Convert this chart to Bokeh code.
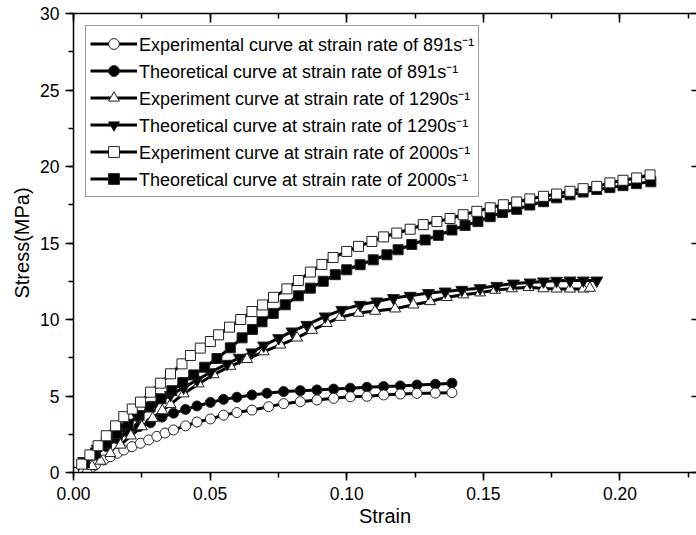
from bokeh.plotting import figure
from bokeh.models import (LinearAxis, Range1d, Legend, LegendItem,
                          SingleIntervalTicker, PrintfTickFormatter)
from bokeh.embed import file_html
from bokeh.resources import INLINE

# ---------------- data ----------------
exp891_x = [0.000, 0.0035, 0.0062, 0.0080, 0.0111, 0.0135, 0.0160, 0.0184, 0.0214, 0.0245,
            0.0275, 0.0305, 0.0335, 0.0366, 0.0410, 0.0452, 0.0501, 0.0549, 0.0598, 0.0653,
            0.0714, 0.0769, 0.0830, 0.0891, 0.0952, 0.1013, 0.1074, 0.1135, 0.1196, 0.1257,
            0.1324, 0.1385]
exp891_y = [0.00, 0.10, 0.27, 0.49, 0.82, 1.03, 1.26, 1.47, 1.69, 1.91,
            2.13, 2.36, 2.58, 2.78, 3.05, 3.30, 3.50, 3.75, 3.92, 4.08,
            4.30, 4.50, 4.63, 4.74, 4.85, 4.95, 4.98, 5.07, 5.13, 5.17,
            5.19, 5.22]

theo891_x = [0.000, 0.004, 0.008, 0.012, 0.016, 0.020, 0.024, 0.0282, 0.0324, 0.0366,
             0.0410, 0.0452, 0.0501, 0.0549, 0.0598, 0.0653, 0.0708, 0.0769, 0.0830, 0.0891,
             0.0952, 0.1013, 0.1074, 0.1135, 0.1196, 0.1257, 0.1324, 0.1385]
theo891_y = [0.00, 0.55, 1.15, 1.70, 2.20, 2.62, 3.00, 3.25, 3.62, 3.88,
             4.12, 4.35, 4.58, 4.78, 4.92, 5.07, 5.18, 5.29, 5.35, 5.40,
             5.45, 5.51, 5.57, 5.62, 5.66, 5.72, 5.77, 5.84]

exp1290_x = [0.000, 0.003, 0.005, 0.0068, 0.0099, 0.0135, 0.0172, 0.0210, 0.0250, 0.0290,
             0.0325, 0.0355, 0.0403, 0.0458, 0.0513, 0.0574, 0.0635, 0.0696, 0.0757, 0.0818,
             0.0873, 0.0927, 0.0976, 0.1043, 0.1104, 0.1177, 0.1244, 0.1305, 0.1366, 0.1427,
             0.1488, 0.1543, 0.1604, 0.1665, 0.1720, 0.1768, 0.1817, 0.1866, 0.1890]
exp1290_y = [0.00, 0.05, 0.18, 0.40, 0.75, 1.25, 1.80, 2.40, 3.00, 3.55,
             4.05, 4.45, 5.15, 5.80, 6.40, 6.95, 7.40, 7.90, 8.34, 8.80,
             9.30, 9.75, 10.15, 10.42, 10.55, 10.70, 10.96, 11.18, 11.45, 11.62,
             11.75, 11.92, 12.02, 12.10, 12.02, 12.00, 12.00, 12.00, 12.05]

theo1290_x = [0.000, 0.0038, 0.0087, 0.0135, 0.0184, 0.0233, 0.0294, 0.0355, 0.0403, 0.0452,
              0.0501, 0.0562, 0.0607, 0.0653, 0.0696, 0.0751, 0.0800, 0.0854, 0.0921, 0.0982,
              0.1049, 0.1110, 0.1171, 0.1232, 0.1299, 0.1360, 0.1421, 0.1488, 0.1549, 0.1610,
              0.1671, 0.1720, 0.1768, 0.1817, 0.1866, 0.1915]
theo1290_y = [0.00, 0.75, 1.55, 2.30, 3.00, 3.65, 4.42, 5.07, 5.55, 6.05,
              6.55, 7.10, 7.50, 7.85, 8.30, 8.78, 9.22, 9.65, 10.20, 10.63,
              10.96, 11.18, 11.40, 11.55, 11.73, 11.83, 11.94, 12.05, 12.20, 12.35,
              12.42, 12.49, 12.53, 12.55, 12.55, 12.55]

exp2000_x = [0.000, 0.003, 0.006, 0.009, 0.012, 0.0154, 0.0184, 0.0215, 0.0245, 0.0282,
             0.0318, 0.0355, 0.0397, 0.0428, 0.0464, 0.0501, 0.0531, 0.0571, 0.0612, 0.0653,
             0.0692, 0.0732, 0.0781, 0.0823, 0.0867, 0.0909, 0.0950, 0.1000, 0.1043, 0.1092,
             0.1135, 0.1183, 0.1232, 0.1280, 0.1330, 0.1378, 0.1426, 0.1476, 0.1525, 0.1573,
             0.1622, 0.1670, 0.1720, 0.1768, 0.1817, 0.1865, 0.1915, 0.1963, 0.2011, 0.2061,
             0.2110]
exp2000_y = [0.00, 0.55, 1.15, 1.75, 2.40, 3.05, 3.65, 4.15, 4.60, 5.25,
             5.84, 6.45, 7.10, 7.65, 8.13, 8.56, 9.00, 9.50, 10.00, 10.52,
             10.95, 11.45, 12.00, 12.55, 13.10, 13.60, 14.05, 14.45, 14.78, 15.10,
             15.40, 15.65, 15.90, 16.20, 16.40, 16.60, 16.85, 17.07, 17.30, 17.50,
             17.68, 17.88, 18.05, 18.20, 18.38, 18.55, 18.70, 18.93, 19.10, 19.25,
             19.45]

theo2000_x = [0.000, 0.004, 0.008, 0.012, 0.016, 0.020, 0.024, 0.028, 0.032, 0.036,
              0.040, 0.044, 0.048, 0.0525, 0.0574, 0.0617, 0.0655, 0.0690, 0.0731, 0.0775,
              0.0823, 0.0867, 0.0914, 0.0958, 0.1000, 0.1049, 0.1097, 0.1147, 0.1188, 0.1238,
              0.1287, 0.1335, 0.1385, 0.1433, 0.1480, 0.1525, 0.1570, 0.1622, 0.1670, 0.1720,
              0.1768, 0.1817, 0.1865, 0.1915, 0.1963, 0.2011, 0.2060, 0.2113]
theo2000_y = [0.00, 0.62, 1.28, 1.92, 2.55, 3.15, 3.72, 4.28, 4.82, 5.35,
              5.88, 6.38, 6.88, 7.45, 8.15, 8.80, 9.35, 9.85, 10.40, 10.96,
              11.55, 12.05, 12.50, 12.93, 13.25, 13.58, 13.90, 14.23, 14.56, 14.90,
              15.20, 15.50, 15.85, 16.15, 16.40, 16.72, 17.00, 17.20, 17.48, 17.70,
              17.95, 18.15, 18.33, 18.50, 18.62, 18.75, 18.88, 19.00]

labels = [
    "Experimental curve at strain rate of 891s\u207b\u00b9",
    "Theoretical curve at strain rate of 891s\u207b\u00b9",
    "Experiment curve at strain rate of 1290s\u207b\u00b9",
    "Theoretical curve at strain rate of 1290s\u207b\u00b9",
    "Experiment curve at strain rate of 2000s\u207b\u00b9",
    "Theoretical curve at strain rate of 2000s\u207b\u00b9",
]

FONT = "Liberation Sans"

p = figure(width=696, height=535, x_range=Range1d(0, 0.228), y_range=Range1d(0, 30),
           output_backend="svg", toolbar_location=None,
           min_border_left=73, min_border_right=0, min_border_top=13, min_border_bottom=63)
p.outline_line_color = None
p.xgrid.visible = False
p.ygrid.visible = False
p.background_fill_color = "white"
p.border_fill_color = "white"

xt = SingleIntervalTicker(interval=0.05, num_minor_ticks=2)
yt = SingleIntervalTicker(interval=5, num_minor_ticks=2)

xa = p.xaxis[0]
xa.ticker = xt
xa.formatter = PrintfTickFormatter(format="%.2f")
xa.axis_label = "Strain"
ya = p.yaxis[0]
ya.ticker = yt
ya.axis_label = "Stress(MPa)"
for ax in (xa, ya):
    ax.axis_line_width = 1.5
    ax.major_tick_line_width = 1.5
    ax.minor_tick_line_width = 1.5
    ax.major_tick_out = 8
    ax.major_tick_in = 0
    ax.minor_tick_out = 5
    ax.minor_tick_in = 0
    ax.major_label_text_font = FONT
    ax.major_label_text_font_size = "17.5px"
    ax.major_label_text_color = "black"
    ax.axis_label_text_font = FONT
    ax.axis_label_text_font_size = "20px"
    ax.axis_label_text_font_style = "normal"
    ax.axis_label_text_color = "black"
xa.major_label_standoff = 6
xa.axis_label_standoff = 2
ya.major_label_standoff = 6
ya.axis_label_standoff = 4

top = LinearAxis(ticker=SingleIntervalTicker(interval=0.05, num_minor_ticks=2),
                 major_tick_in=9, major_tick_out=0, minor_tick_in=5, minor_tick_out=0,
                 major_label_text_color=None, major_label_text_font_size="1px",
                 major_label_standoff=0,
                 axis_line_width=1.5, major_tick_line_width=1.5, minor_tick_line_width=1.5)
p.add_layout(top, "above")
right = LinearAxis(ticker=SingleIntervalTicker(interval=5, num_minor_ticks=0),
                   major_tick_in=5, major_tick_out=0, minor_tick_line_color=None,
                   major_label_text_color=None, major_label_text_font_size="1px",
                   major_label_standoff=0,
                   axis_line_color=None, major_tick_line_width=1.5)
p.add_layout(right, "right")

series = [
    (exp891_x, exp891_y, "circle", "white", 10),
    (theo891_x, theo891_y, "circle", "black", 10),
    (exp1290_x, exp1290_y, "triangle", "white", 11),
    (theo1290_x, theo1290_y, "inverted_triangle", "black", 12),
    (exp2000_x, exp2000_y, "square", "white", 10),
    (theo2000_x, theo2000_y, "square", "black", 10),
]

lines = []
for xs, ys, m, fc, sz in series:
    lines.append(p.line(xs, ys, line_width=3, line_color="black"))

draw_order = [1, 0, 2, 3, 5, 4]
marks = [None] * 6
for i in draw_order:
    xs, ys, m, fc, sz = series[i]
    marks[i] = p.scatter(xs, ys, marker=m, size=sz, fill_color=fc,
                         line_color="#222222", line_width=1)

items = [LegendItem(label=labels[i], renderers=[lines[i], marks[i]]) for i in range(6)]
legend = Legend(items=items, location="top_left", margin=12, padding=4, spacing=0,
                label_height=27, glyph_height=27, glyph_width=47, label_standoff=2,
                label_text_font=FONT, label_text_font_size="18px", label_text_color="black",
                border_line_color="#333333", border_line_width=1,
                background_fill_color="white", background_fill_alpha=1)
p.add_layout(legend)

open("out.html", "w").write(file_html(p, INLINE))
